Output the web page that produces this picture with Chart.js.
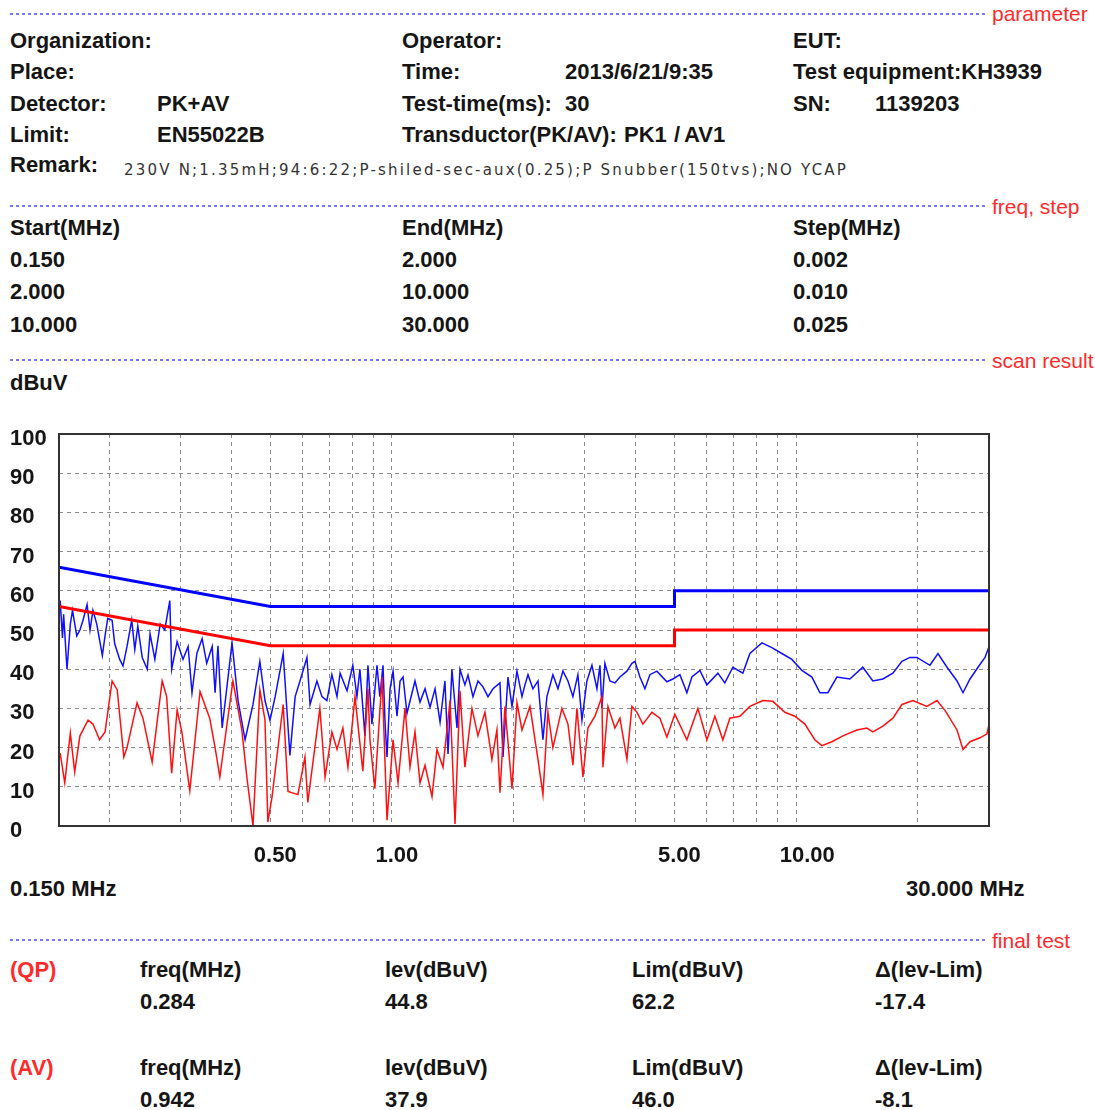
<!DOCTYPE html>
<html><head><meta charset="utf-8">
<script src="https://cdn.jsdelivr.net/npm/chart.js@4.4.1/dist/chart.umd.min.js"></script>
<style>
html,body{margin:0;padding:0;background:#fff;}
body{width:1095px;height:1110px;position:relative;overflow:hidden;font-family:"Liberation Sans",Arial,sans-serif;}
.t{position:absolute;font-size:22px;line-height:22px;font-weight:bold;color:#151515;white-space:pre;}
.r{position:absolute;font-size:21px;line-height:21px;color:#ff2a2a;white-space:pre;}
.rb{color:#ff2a2a;}
.dl{position:absolute;left:10px;width:975px;height:2px;background:repeating-linear-gradient(90deg,#7878ff 0 3px,transparent 3px 6px);}
#rem{position:absolute;left:124px;top:163px;font-family:"DejaVu Sans",sans-serif;font-size:15px;line-height:15px;color:#333;white-space:pre;}
#wrap{position:absolute;left:10px;top:414px;width:1000px;height:460px;}
</style></head><body>

<div class="dl" style="top:13px"></div><div class="r" style="left:992px;top:3px">parameter</div>
<div class="t" style="left:10px;top:30px">Organization:</div>
<div class="t" style="left:402px;top:30px">Operator:</div>
<div class="t" style="left:793px;top:30px">EUT:</div>
<div class="t" style="left:10px;top:61px">Place:</div>
<div class="t" style="left:402px;top:61px">Time:</div>
<div class="t" style="left:565px;top:61px">2013/6/21/9:35</div>
<div class="t" style="left:793px;top:61px">Test equipment:KH3939</div>
<div class="t" style="left:10px;top:93px">Detector:</div>
<div class="t" style="left:157px;top:93px">PK+AV</div>
<div class="t" style="left:402px;top:93px">Test-time(ms):</div>
<div class="t" style="left:565px;top:93px">30</div>
<div class="t" style="left:793px;top:93px">SN:</div>
<div class="t" style="left:875px;top:93px">1139203</div>
<div class="t" style="left:10px;top:124px">Limit:</div>
<div class="t" style="left:157px;top:124px">EN55022B</div>
<div class="t" style="left:402px;top:124px">Transductor(PK/AV):</div>
<div class="t" style="left:624px;top:124px">PK1</div>
<div class="t" style="left:674px;top:124px">/</div>
<div class="t" style="left:684px;top:124px">AV1</div>
<div class="t" style="left:10px;top:154px">Remark:</div>
<div id="rem">230V N;1.35mH;94:6:22;P-shiled-sec-aux(0.25);P Snubber(150tvs);NO YCAP</div>

<div class="dl" style="top:205px"></div><div class="r" style="left:992px;top:196px">freq, step</div>
<div class="t" style="left:10px;top:217px">Start(MHz)</div>
<div class="t" style="left:402px;top:217px">End(MHz)</div>
<div class="t" style="left:793px;top:217px">Step(MHz)</div>
<div class="t" style="left:10px;top:249px">0.150</div>
<div class="t" style="left:402px;top:249px">2.000</div>
<div class="t" style="left:793px;top:249px">0.002</div>
<div class="t" style="left:10px;top:281px">2.000</div>
<div class="t" style="left:402px;top:281px">10.000</div>
<div class="t" style="left:793px;top:281px">0.010</div>
<div class="t" style="left:10px;top:314px">10.000</div>
<div class="t" style="left:402px;top:314px">30.000</div>
<div class="t" style="left:793px;top:314px">0.025</div>

<div class="dl" style="top:359px"></div><div class="r" style="left:992px;top:350px">scan result</div>
<div class="t" style="left:10px;top:372px">dBuV</div>

<div id="wrap"><canvas id="c" width="1000" height="460"></canvas></div>

<div class="t" style="left:10px;top:878px">0.150 MHz</div>
<div class="t" style="left:906px;top:878px">30.000 MHz</div>

<div class="dl" style="top:939px"></div><div class="r" style="left:992px;top:930px">final test</div>
<div class="t rb" style="left:10px;top:959px">(QP)</div>
<div class="t" style="left:140px;top:959px">freq(MHz)</div>
<div class="t" style="left:385px;top:959px">lev(dBuV)</div>
<div class="t" style="left:632px;top:959px">Lim(dBuV)</div>
<div class="t" style="left:875px;top:959px">Δ(lev-Lim)</div>
<div class="t" style="left:140px;top:991px">0.284</div>
<div class="t" style="left:385px;top:991px">44.8</div>
<div class="t" style="left:632px;top:991px">62.2</div>
<div class="t" style="left:875px;top:991px">-17.4</div>
<div class="t rb" style="left:10px;top:1057px">(AV)</div>
<div class="t" style="left:140px;top:1057px">freq(MHz)</div>
<div class="t" style="left:385px;top:1057px">lev(dBuV)</div>
<div class="t" style="left:632px;top:1057px">Lim(dBuV)</div>
<div class="t" style="left:875px;top:1057px">Δ(lev-Lim)</div>
<div class="t" style="left:140px;top:1089px">0.942</div>
<div class="t" style="left:385px;top:1089px">37.9</div>
<div class="t" style="left:632px;top:1089px">46.0</div>
<div class="t" style="left:875px;top:1089px">-8.1</div>

<script>
// ---- data (MHz, dBuV) ----
const pkFreq = [0.151,0.153,0.154,0.157,0.160,0.162,0.166,0.169,0.172,0.176,0.179,0.182,0.186,0.192,0.195,0.198,0.203,0.206,0.212,0.216,0.221,0.227,0.231,0.235,0.241,0.248,0.252,0.259,0.267,0.274,0.282,0.285,0.294,0.304,0.313,0.320,0.329,0.339,0.348,0.359,0.365,0.371,0.380,0.402,0.416,0.433,0.453,0.471,0.485,0.499,0.514,0.538,0.559,0.576,0.592,0.616,0.627,0.652,0.671,0.690,0.710,0.731,0.744,0.774,0.800,0.819,0.833,0.857,0.872,0.892,0.918,0.933,0.950,0.961,0.972,0.989,1.006,1.029,1.047,1.065,1.089,1.121,1.140,1.173,1.207,1.242,1.278,1.315,1.352,1.376,1.407,1.448,1.473,1.515,1.542,1.586,1.632,1.679,1.728,1.778,1.850,1.882,1.936,1.981,2.038,2.097,2.133,2.170,2.232,2.297,2.363,2.417,2.501,2.574,2.648,2.725,2.803,2.884,2.951,3.036,3.124,3.214,3.270,3.307,3.364,3.461,3.561,3.664,3.813,3.923,3.991,4.106,4.225,4.346,4.523,4.788,4.955,5.156,5.366,5.521,5.779,6.014,6.401,6.661,6.972,7.382,7.683,8.226,8.707,9.218,9.758,10.33,10.94,11.45,11.98,12.61,13.58,14.62,15.48,16.39,17.35,18.27,19.12,19.90,21.43,22.43,23.62,25.00,25.87,26.92,28.18,29.32,30.0];
const pkLevel = [57.5,48,54,40,51.5,55,48.5,50,52.5,56.5,50,55,51.5,43.5,48.5,53,52.5,46.5,42.5,40.8,45.8,52.5,45,51,43,40,49,42.5,51.5,50,57.5,40,47,42.5,45.8,34,44,47.8,41.5,45.8,34,46,25,46.7,32,22,31,42,32,27,33,44,18,33,37,43,31,37,33,32,38.6,33,39,34.5,41,33,40,23,41,26,41,33,41,26.5,17.6,35,39.5,28,37,38,28.7,34,37,31.6,35,30.3,35,26.5,37,18.4,40,25,40,36,38.5,33,37,35.5,33,35,36.5,17.6,38,30.5,39.5,33,36,38.6,35,37,22,33,38.6,35,39.5,37,33,38.6,27,37,41,35,41,30,41.5,37,36.5,38,39.5,41.5,42,38,35,38.6,39.5,36.8,37.5,38.6,34,38,39.7,36,39,36.5,40.5,39,44,46.7,45.5,44,42.5,39.7,38,34,34,38,37.5,40.5,37,37.5,39,42,43,43,41,44,40.5,37,34,37.5,40.5,43,45.7];
const avFreq = [0.151,0.155,0.160,0.164,0.169,0.177,0.182,0.189,0.195,0.203,0.209,0.217,0.221,0.234,0.242,0.255,0.270,0.277,0.285,0.294,0.302,0.316,0.335,0.354,0.365,0.375,0.404,0.425,0.438,0.453,0.471,0.485,0.493,0.505,0.538,0.553,0.585,0.609,0.619,0.663,0.683,0.710,0.731,0.756,0.778,0.810,0.847,0.872,0.882,0.907,0.945,0.972,1.006,1.035,1.077,1.108,1.140,1.173,1.207,1.256,1.292,1.337,1.392,1.432,1.473,1.515,1.577,1.632,1.698,1.767,1.818,1.850,1.903,1.981,2.038,2.097,2.195,2.297,2.363,2.431,2.501,2.633,2.725,2.803,2.868,2.968,3.053,3.178,3.307,3.326,3.422,3.561,3.664,3.813,3.923,4.037,4.177,4.396,4.601,4.788,5.01,5.366,5.713,6.014,6.294,6.586,6.854,7.256,7.683,8.274,8.757,9.377,9.926,10.51,11.12,11.58,12.26,13.05,14.13,14.96,15.48,16.39,17.35,18.27,19.45,21.06,22.30,23.35,25.00,25.87,26.92,28.50,29.66,30.0];
const avLevel = [18.6,11,23.7,13.8,23,27,26,22,24,37,34.7,17.6,20,31.4,27.5,16.3,37,33,13.5,29.6,24,9,34.3,27.5,20,12.5,37,24.5,12,0,34.7,27,1,7.5,31,8.8,8,17.6,6,30,12.5,24,19.6,25,15,33,14,35,22,9.5,38,1.5,22,11,30,15,24,11,15.5,7.5,19.5,15,32,0.5,34.5,15,30,23,29,17,24.5,8.5,30.5,9.5,31.5,24.5,30.5,17,8,29,20,30,26,15.5,30,12.5,25,28,33,15,30.5,25,27.5,17,30.5,29,26,29,27.5,22.7,28.5,22,30,22,28,22,27.5,28,30.5,32,31.8,29,28,26,22,20.5,21.5,23,24.5,25,24,25.5,27.5,31,32,30.5,32,29.5,24.5,19.5,21.5,22.5,23.5,26];
// EN55022B limits
const limFreq = [0.15,0.5,5,5,30];
const qpLimit = [66,56,56,60,60];
const avLimit = [56,46,46,50,50];
// axis
const xGrid = [0.15,0.2,0.3,0.4,0.5,0.6,0.7,0.8,0.9,1,2,3,4,5,6,7,8,9,10,20,30];
const xLabelValues = [0.5,1,5,10];
const xLabelTexts = ['0.50','1.00','5.00','10.00'];
const yMin = 0, yMax = 100, yStep = 10;

// remark spacing fit
(function(){
  const el=document.getElementById('rem');
  const cv=document.createElement('canvas').getContext('2d');
  cv.font='15px "DejaVu Sans"';
  const s=el.textContent; const w=cv.measureText(s).width;
  el.style.letterSpacing=((724-w)/s.length)+'px';
})();

const pts = (fx, fy) => fx.map((f,i)=>({x:f,y:fy[i]}));
const frame = {id:'frame', afterDraw(c){const {ctx, chartArea:a}=c; ctx.save(); ctx.strokeStyle='#333'; ctx.lineWidth=2; ctx.strokeRect(a.left,a.top,a.right-a.left,a.bottom-a.top); ctx.restore();}};
const F = {family:'"Liberation Sans", Arial, sans-serif', size:22, weight:'bold'};

new Chart(document.getElementById('c'), {
  type:'line',
  data:{datasets:[
    {data:pts(limFreq,qpLimit), borderColor:'#0000ff', borderWidth:3, pointRadius:0, order:0},
    {data:pts(limFreq,avLimit), borderColor:'#ff0000', borderWidth:3, pointRadius:0, order:1},
    {data:pts(pkFreq,pkLevel), borderColor:'#1010ff', borderWidth:1.5, pointRadius:0, order:3},
    {data:pts(avFreq,avLevel), borderColor:'#ff1010', borderWidth:1.5, pointRadius:0, order:2}
  ]},
  options:{
    responsive:false, animation:false, devicePixelRatio:1,
    layout:{padding:{top:20,right:21,bottom:0,left:0}},
    plugins:{legend:{display:false}, tooltip:{enabled:false}},
    elements:{line:{tension:0}},
    scales:{
      x:{type:'logarithmic', min:0.15, max:30,
        afterBuildTicks:s=>{s.ticks=xGrid.map(v=>({value:v}));},
        afterFit:s=>{s.height=48;},
        grid:{color:'#8c8c8c', lineWidth:1, drawTicks:false},
        border:{display:false, dash:[4,4]},
        ticks:{autoSkip:false, maxRotation:0, align:'start', labelOffset:-16.5, padding:17, color:'#151515', font:F,
          callback:v=>{const i=xLabelValues.indexOf(v); return i>=0?xLabelTexts[i]:'';}}
      },
      y:{min:yMin, max:yMax,
        afterFit:s=>{s.width=49;},
        grid:{color:'#8c8c8c', lineWidth:1, drawTicks:false},
        border:{display:false, dash:[4,4]},
        ticks:{stepSize:yStep, crossAlign:'far', labelOffset:5, padding:0, color:'#151515', font:F}
      }
    }
  },
  plugins:[frame]
});
</script>
</body></html>
